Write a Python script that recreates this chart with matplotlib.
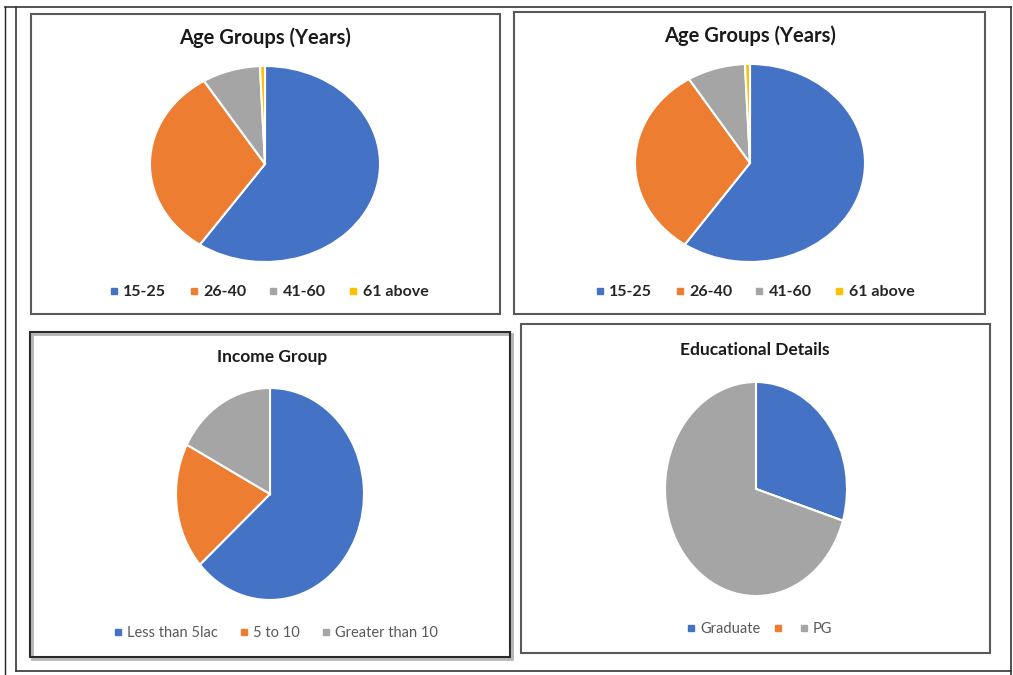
import matplotlib
matplotlib.use("Agg")
import matplotlib.pyplot as plt
from matplotlib.patches import Rectangle
from matplotlib.lines import Line2D

#---------------------------------------------------
#----------------------data-------------------------
#---------------------------------------------------
age_labels = ["15-25", "26-40", "41-60", "61 above"]
age_values = [59.6, 31.5, 8.2, 0.7]

income_labels = ["Less than 5lac", "5 to 10", "Greater than 10"]
income_values = [63.4, 19.3, 17.3]

edu_labels = ["Graduate", "", "PG"]
edu_values = [29.8, 0.0, 70.2]

age_title = "Age Groups (Years)"
income_title = "Income Group"
edu_title = "Educational Details"

BLUE = "#4472C4"
ORANGE = "#ED7D31"
GRAY = "#A5A5A5"
YELLOW = "#FFC000"
age_colors = [BLUE, ORANGE, GRAY, YELLOW]
income_colors = [BLUE, ORANGE, GRAY]
edu_colors = [BLUE, ORANGE, GRAY]

W, H = 1013, 675
FONT = "Lato"

fig = plt.figure(figsize=(W / 100, H / 100), dpi=100)


def fx(x):
    return x / W


def fy(y):
    return 1 - y / H


def box(x0, y0, x1, y1, color="#595959", lw=1.5, shadow=False):
    if shadow:
        fig.patches.append(Rectangle((fx(x0 + 1.5), fy(y1 + 1.5)), (x1 - x0) / W, (y1 - y0) / H,
                                     transform=fig.transFigure, fill=False,
                                     edgecolor="#b5b5b5", lw=2.0, zorder=0))
    fig.patches.append(Rectangle((fx(x0), fy(y1)), (x1 - x0) / W, (y1 - y0) / H,
                                 transform=fig.transFigure, fill=False,
                                 edgecolor=color, lw=lw, zorder=1))


def line(xs, ys, color="#333333", lw=1.2):
    fig.add_artist(Line2D([fx(x) for x in xs], [fy(y) for y in ys],
                          transform=fig.transFigure, color=color, lw=lw))


def pie_panel(values, colors, labels, cx, cy, rx, ry, title, tx, ty, tsize,
              lx, ly, lsize, bold_legend, colspace):
    ax = fig.add_axes([fx(cx - rx), fy(cy + ry), 2 * rx / W, 2 * ry / H])
    ax.pie(values, colors=colors, startangle=90, counterclock=False,
           wedgeprops=dict(edgecolor="white", linewidth=1.5))
    ax.set_aspect("auto")
    ax.set_xlim(-1.0, 1.0)
    ax.set_ylim(-1.0, 1.0)
    ax.axis("off")

    fig.text(fx(tx), fy(ty), title, ha="center", va="center",
             fontsize=tsize, fontweight="bold", family=FONT, color="#1a1a1a")

    handles = [Line2D([], [], marker="s", linestyle="", color=c, markersize=5)
               for c in colors]
    leg = fig.legend(handles, labels, loc="center", ncol=len(labels),
                     bbox_to_anchor=(fx(lx), fy(ly)), bbox_transform=fig.transFigure,
                     frameon=False, handletextpad=0.2, columnspacing=colspace,
                     handlelength=0.8,
                     prop=dict(family=FONT, size=lsize,
                               weight="bold" if bold_legend else "normal"))
    for t in leg.get_texts():
        t.set_color("#262626" if bold_legend else "#595959")


# outer frame
line([5, 1011], [7, 7])
line([5, 5], [7, 675], color="#222222", lw=1.0)
line([16, 16], [7, 671])
line([16, 1011], [671, 671])
line([1011, 1011], [7, 675])

# panel boxes
box(31, 14, 500, 314)
box(514, 12, 985, 314)
box(30, 332, 510, 657, color="#2a2a2a", shadow=True)
box(521, 324, 990, 653)

pie_panel(age_values, age_colors, age_labels, 265, 164, 115, 98,
          age_title, 265, 38, 14.5, 268, 292, 11.5, True, 1.3)
pie_panel(age_values, age_colors, age_labels, 750, 163, 115, 99,
          age_title, 750, 36, 14.5, 754, 292, 11.5, True, 1.3)
pie_panel(income_values, income_colors, income_labels, 270, 494, 94, 106,
          income_title, 272, 357, 12.5, 275, 633, 10.5, False, 1.4)
pie_panel(edu_values, edu_colors, edu_labels, 756, 489, 91, 107,
          edu_title, 755, 350, 12.5, 759, 629, 10.5, False, 0.8)

plt.savefig("out.png", dpi=100)
